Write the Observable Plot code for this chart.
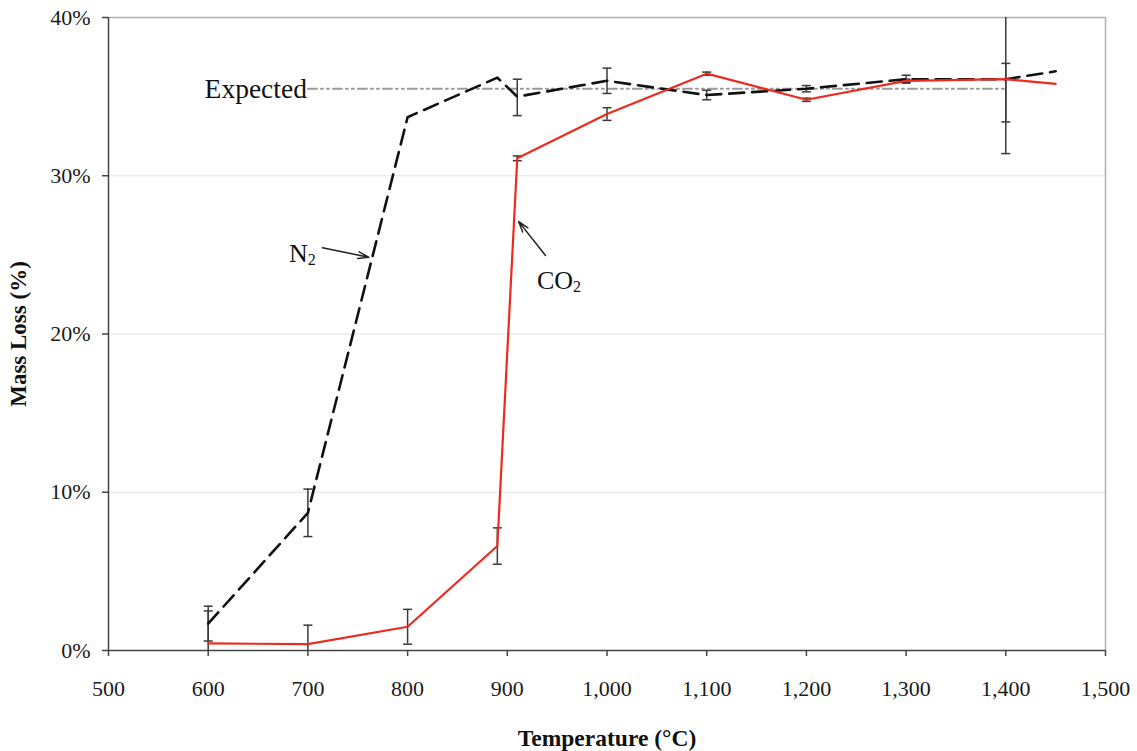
<!DOCTYPE html>
<html>
<head>
<meta charset="utf-8">
<script src="https://cdn.jsdelivr.net/npm/d3@7"></script>
<script src="https://cdn.jsdelivr.net/npm/@observablehq/plot@0.6"></script>
<style>
  html, body { margin: 0; padding: 0; background: #fff; }
  #chart { width: 1137px; height: 751px; }
</style>
</head>
<body>
<div id="chart"></div>
<script>
// ---- Data ----
const temps = [600, 700, 800, 890, 910, 1000, 1100, 1200, 1300, 1400, 1450];

const n2Loss = [1.7, 8.7, 33.7, 36.2, 35.0, 36.0, 35.1, 35.5, 36.1, 36.1, 36.6];
const n2Low  = [0.6, 7.2, null, null, 33.8, 35.2, 34.8, 35.3, 35.85, 31.4, null];
const n2High = [2.8, 10.2, null, null, 36.1, 36.8, 35.4, 35.7, 36.35, 40.8, null];

const co2Loss = [0.45, 0.4, 1.5, 6.6, 31.1, 33.9, 36.45, 34.8, 36.0, 36.1, 35.8];
const co2Low  = [-1.6, -0.8, 0.4, 5.45, 30.95, 33.5, 36.35, 34.7, 35.9, 33.4, null];
const co2High = [2.5, 1.6, 2.6, 7.75, 31.25, 34.3, 36.55, 34.9, 36.1, 37.1, null];

const expectedLoss = 35.5;
const expectedTemps = [700, 1400];

const xTicks = [500, 600, 700, 800, 900, 1000, 1100, 1200, 1300, 1400, 1500];
const yTicks = [0, 10, 20, 30, 40];
const gridTicks = [10, 20, 30];

const xTitle = "Temperature (°C)";
const yTitle = "Mass Loss (%)";
const expectedLabel = "Expected";

// annotation anchors (data space)
const n2Label = {x: 712, y: 25.1, main: "N", sub: "2"};
const co2Label = {x: 966, y: 23.4, main: "CO", sub: "2"};
const n2Arrow = {x1: 714.6, y1: 25.45, x2: 761, y2: 24.85};
const co2Arrow = {x1: 938.3, y1: 24.96, x2: 911.5, y2: 27.1};

// ---- Build tables ----
const n2 = temps.map((t, i) => ({x: t, y: n2Loss[i]}));
const co2 = temps.map((t, i) => ({x: t, y: co2Loss[i]}));
const bars = [];
temps.forEach((t, i) => {
  if (n2Low[i] != null) bars.push({x: t, lo: n2Low[i], hi: n2High[i]});
  if (co2Low[i] != null) bars.push({x: t, lo: co2Low[i], hi: co2High[i]});
});
const caps = bars.flatMap(b => [{x: b.x, y: b.lo}, {x: b.x, y: b.hi}]);
const expected = expectedTemps.map(t => ({x: t, y: expectedLoss}));

const capSymbol = {
  draw(context, size) {
    const w = Math.sqrt(size / Math.PI);
    context.moveTo(-w, 0);
    context.lineTo(w, 0);
  }
};

const serif = "'Liberation Serif', 'Times New Roman', serif";

const chart = Plot.plot({
  width: 1137,
  height: 751,
  marginLeft: 108,
  marginRight: 32,
  marginTop: 17,
  marginBottom: 101,
  style: {fontFamily: serif, background: "#fff", overflow: "visible"},
  x: {domain: [500, 1500]},
  y: {domain: [0, 40]},
  marks: [
    Plot.gridY(gridTicks, {stroke: "#d8d8d8", strokeOpacity: 0.7, strokeWidth: 1.2}),
    Plot.ruleY([40], {stroke: "#b0b0b0", strokeWidth: 1.5}),
    Plot.ruleX([1500], {stroke: "#b0b0b0", strokeWidth: 1.5}),
    Plot.axisX(xTicks, {
      tickFormat: d3.format(","), tickSize: 6, tickPadding: 24, fontSize: 22,
      label: null, stroke: "#444", fill: "#1a1a1a", strokeWidth: 1.5
    }),
    Plot.axisY(yTicks, {
      tickFormat: d => d + "%", tickSize: 6, tickPadding: 12, fontSize: 22,
      label: null, stroke: "#444", fill: "#1a1a1a", strokeWidth: 1.5
    }),
    Plot.ruleX([500], {stroke: "#444", strokeWidth: 1.5}),
    Plot.ruleY([0], {stroke: "#444", strokeWidth: 1.5}),
    // expected line
    Plot.line(expected, {x: "x", y: "y", stroke: "#9a9a9a", strokeWidth: 2, strokeDasharray: "9,4,2,4,2,4"}),
    Plot.text([expectedLabel], {x: expectedTemps[0], y: expectedLoss, textAnchor: "end", dx: -1, fontSize: 27.5, fill: "#111"}),
    // error bars
    Plot.ruleX(bars, {x: "x", y1: "lo", y2: "hi", stroke: "#3a3a3a", strokeWidth: 1.5, clip: true}),
    Plot.dot(caps, {x: "x", y: "y", symbol: capSymbol, r: 4.5, stroke: "#3a3a3a", strokeWidth: 1.5, fill: "none", clip: true}),
    // series
    Plot.line(n2, {x: "x", y: "y", stroke: "#111", strokeWidth: 2.6, strokeDasharray: "15,8"}),
    Plot.line(co2, {x: "x", y: "y", stroke: "#ee2a1e", strokeWidth: 2.2}),
    // annotations
    Plot.arrow([n2Arrow], {x1: "x1", y1: "y1", x2: "x2", y2: "y2", stroke: "#222", strokeWidth: 1.5, headLength: 11, headAngle: 35}),
    Plot.arrow([co2Arrow], {x1: "x1", y1: "y1", x2: "x2", y2: "y2", stroke: "#222", strokeWidth: 1.5, headLength: 11, headAngle: 35}),
    Plot.text([n2Label], {x: "x", y: "y", text: "main", textAnchor: "end", dx: -12, fontSize: 26, fill: "#111"}),
    Plot.text([n2Label], {x: "x", y: "y", text: "sub", textAnchor: "start", dx: -12, dy: 7, fontSize: 16, fill: "#111"}),
    Plot.text([co2Label], {x: "x", y: "y", text: "main", textAnchor: "end", dx: 0, fontSize: 26, fill: "#111"}),
    Plot.text([co2Label], {x: "x", y: "y", text: "sub", textAnchor: "start", dx: 0, dy: 7, fontSize: 16, fill: "#111"}),
    // axis titles
    Plot.text([xTitle], {frameAnchor: "bottom", dy: 95, fontSize: 23.5, fontWeight: "bold", fill: "#111"}),
    Plot.text([yTitle], {frameAnchor: "left", dx: -90, rotate: -90, textAnchor: "middle", fontSize: 23, fontWeight: "bold", fill: "#111"})
  ]
});
document.getElementById("chart").appendChild(chart);
</script>
</body>
</html>
